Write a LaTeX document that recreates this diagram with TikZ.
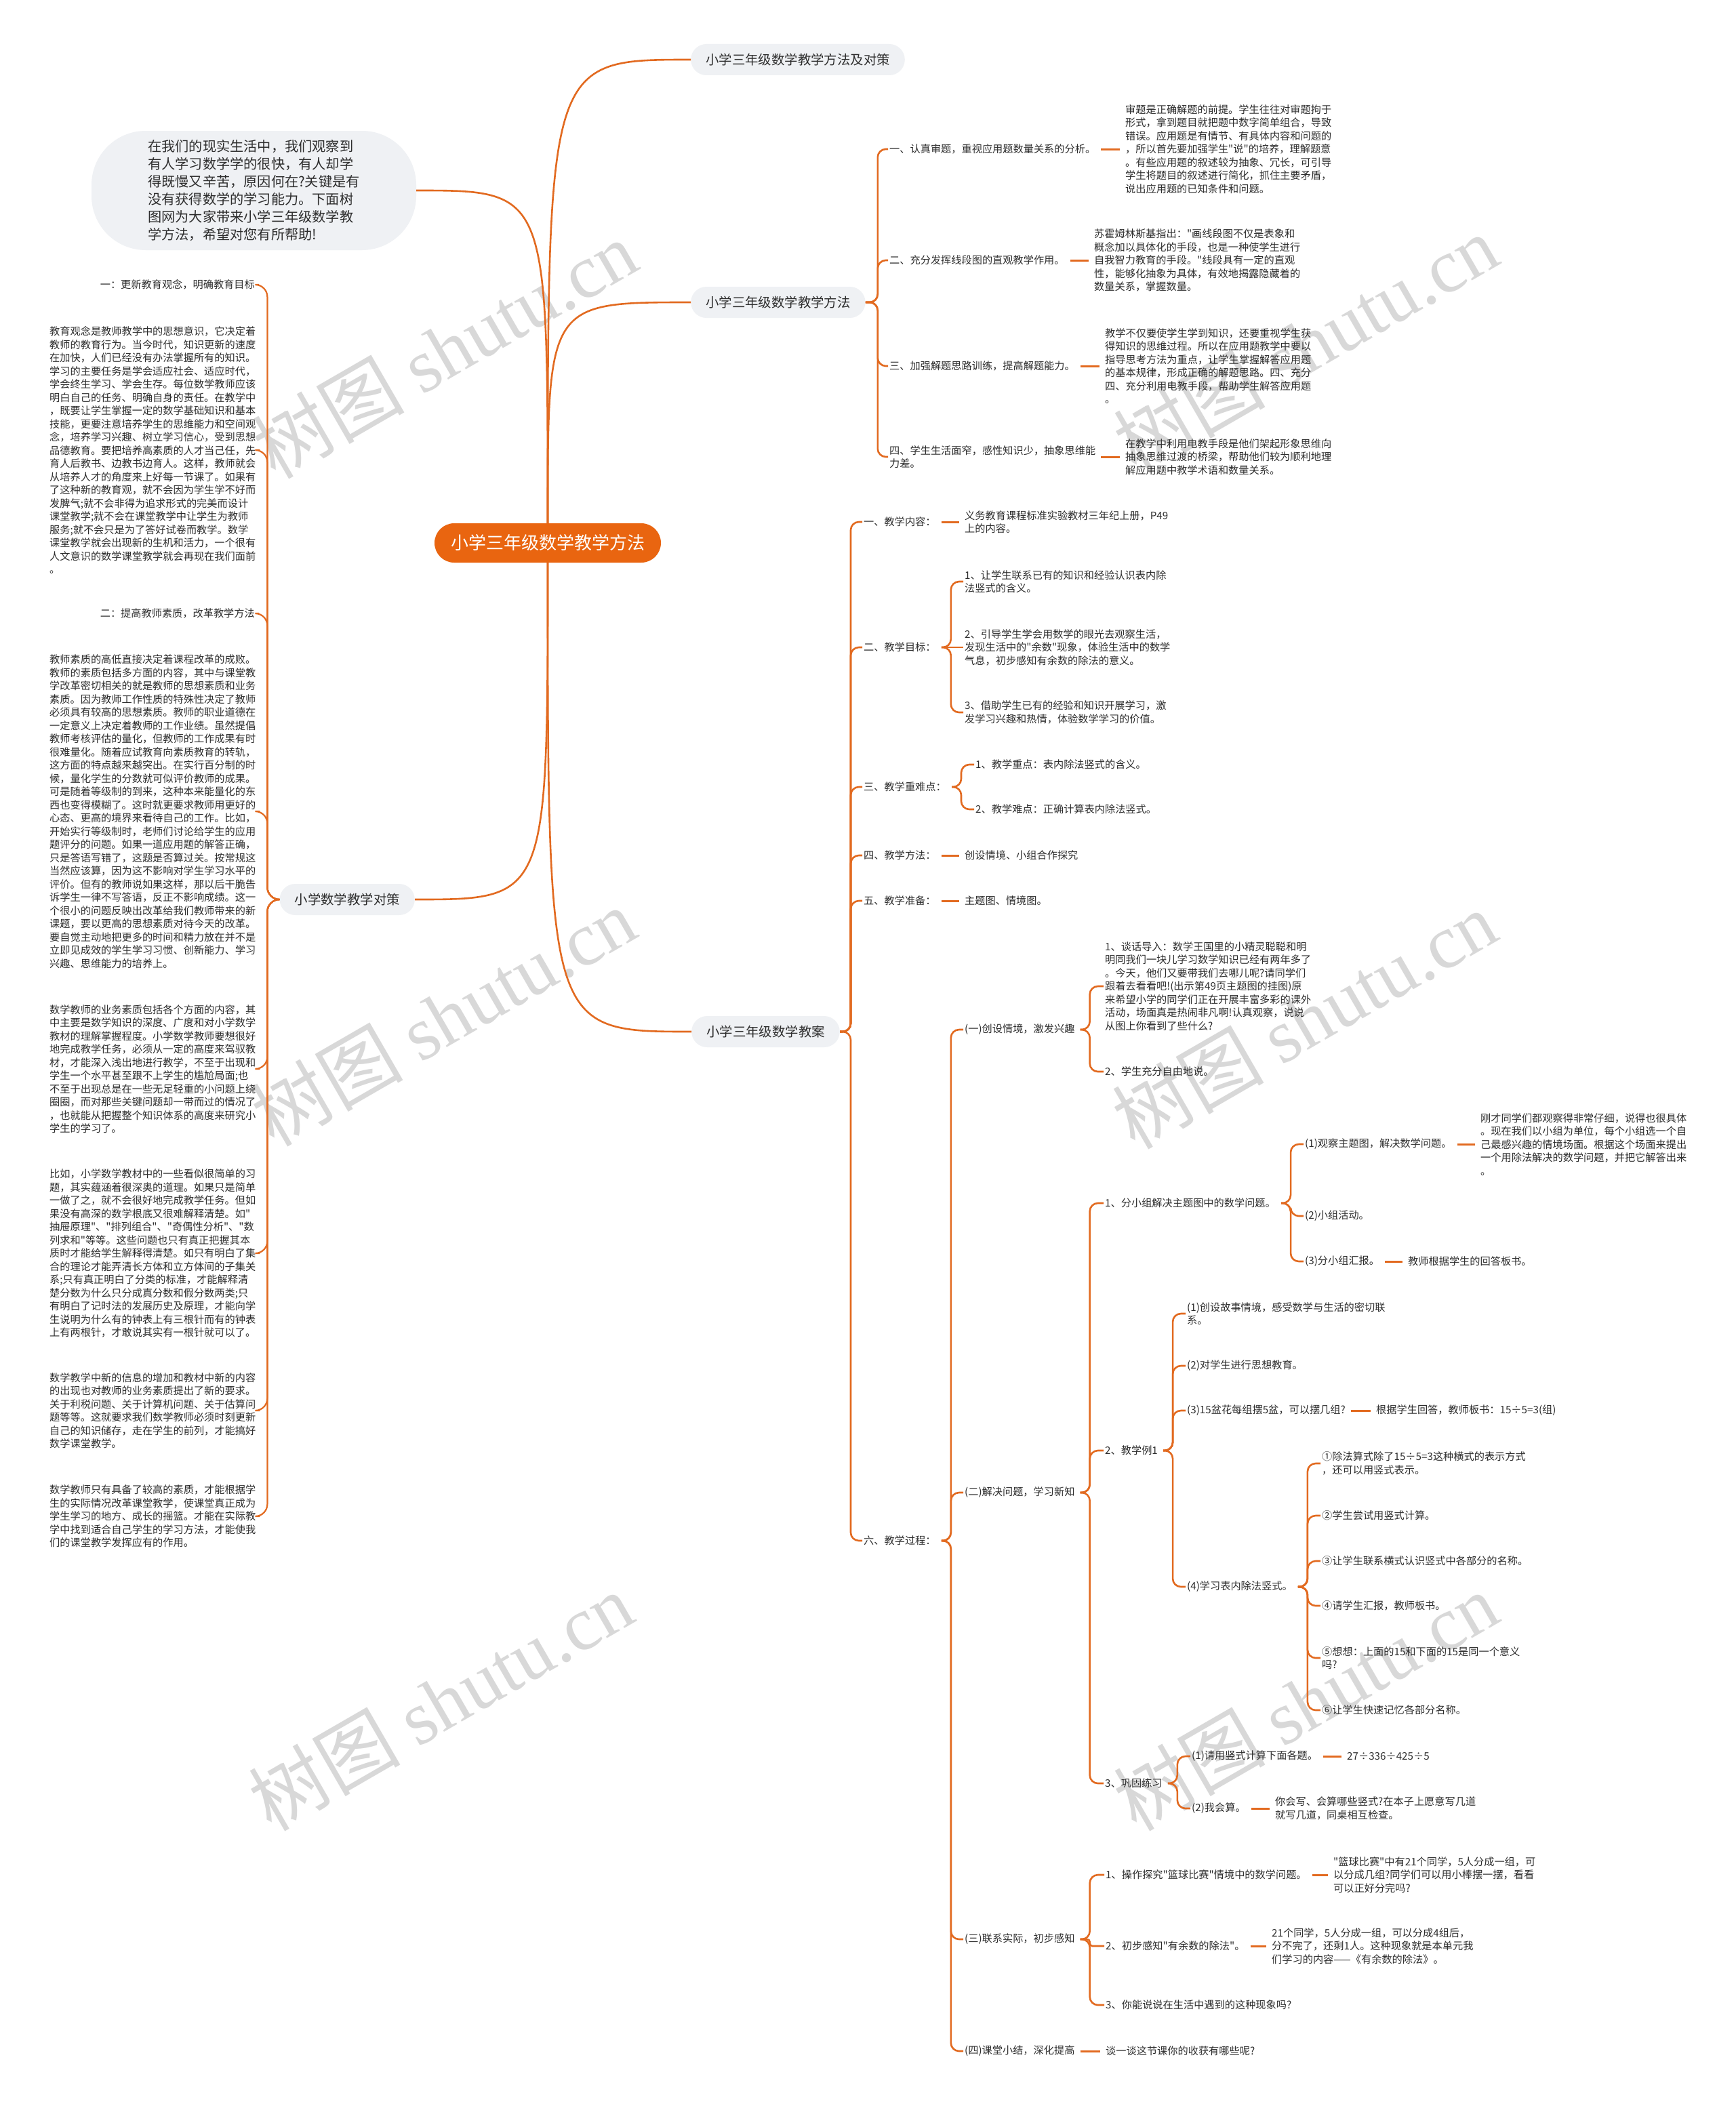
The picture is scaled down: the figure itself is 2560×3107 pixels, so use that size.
\documentclass[tikz,border=0pt]{standalone}
\usepackage{fontspec}
\newfontfamily\cjk{Noto Sans CJK SC}
\newfontfamily\wmfont{Liberation Serif}
\definecolor{rootc}{RGB}{233,101,16}
\definecolor{linec}{RGB}{226,106,32}
\definecolor{bubc}{RGB}{239,241,244}
\definecolor{txtc}{RGB}{45,45,45}
\definecolor{wmc}{RGB}{216,216,216}
\begin{document}
\begin{tikzpicture}[x=1pt,y=-1pt,
  every node/.style={inner sep=0pt},
  rootnode/.style={fill=rootc,text=white,rounded corners=29pt,minimum width=334pt,minimum height=58pt,font=\cjk\fontsize{26}{30}\selectfont},
  lone/.style={fill=bubc,text=txtc,rounded corners=23pt,minimum height=46pt,inner xsep=22pt,font=\cjk\fontsize{19.4}{24}\selectfont},
  tx/.style={text=txtc,font=\cjk\fontsize{15.2}{19.5}\selectfont,align=left,inner xsep=2pt,inner ysep=1pt,anchor=west},
  curv/.style={draw=linec,line width=2.6pt},
  brk/.style={draw=linec,line width=2.6pt,rounded corners=12pt},
  lbrk/.style={draw=linec,line width=2.2pt,rounded corners=18pt},
  dsh/.style={draw=linec,line width=3pt},
  wmk/.style={text=wmc,rotate=30,font=\cjk\fontsize{112}{120}\selectfont}]
\fill[white] (0,0) rectangle (2560,3107);
\useasboundingbox (0,0) rectangle (2560,3107);
% watermarks
\node[wmk] (w1) at (656,515) {树图 {\wmfont shutu.cn}};
\node[wmk] (w2) at (1926,507) {树图 {\wmfont shutu.cn}};
\node[wmk] (w3) at (654,1500) {树图 {\wmfont shutu.cn}};
\node[wmk] (w4) at (1924,1504) {树图 {\wmfont shutu.cn}};
\node[wmk] (w5) at (650,2510) {树图 {\wmfont shutu.cn}};
\node[wmk] (w6) at (1926,2510) {树图 {\wmfont shutu.cn}};
% root and main branches
\node[rootnode] (root) at (808,801) {小学三年级数学教学方法};
\node[fill=bubc,text=txtc,rounded corners=80pt,minimum width=479pt,minimum height=176pt,align=left,font=\cjk\fontsize{20.2}{26}\selectfont] (intro) at (374.5,281) {在我们的现实生活中，我们观察到\\%
有人学习数学学的很快，有人却学\\%
得既慢又辛苦，原因何在?关键是有\\%
没有获得数学的学习能力。下面树\\%
图网为大家带来小学三年级数学教\\%
学方法，希望对您有所帮助!};
\node[lone,anchor=west] (A) at (1019,88) {小学三年级数学教学方法及对策};
\node[lone,anchor=west] (B) at (1019,446) {小学三年级数学教学方法};
\node[lone,anchor=west] (C) at (1020,1522) {小学三年级数学教案};
\node[lone,anchor=east] (D) at (612,1327) {小学数学教学对策};
\draw[curv] (root.north) .. controls (root.north |- A.west) .. (A.west);
\draw[curv] (root.north) .. controls (root.north |- B.west) .. (B.west);
\draw[curv] (root.north) .. controls (root.north |- intro.east) .. (intro.east);
\draw[curv] (root.south) .. controls (root.south |- D.east) .. (D.east);
\draw[curv] (root.south) .. controls (root.south |- C.west) .. (C.west);
% ---------- branch B
\node[tx] (b1) at (1310,220) {一、认真审题，重视应用题数量关系的分析。};
\node[tx] (b1p) at (1658,220) {审题是正确解题的前提。学生往往对审题拘于\\%
形式，拿到题目就把题中数字简单组合，导致\\%
错误。应用题是有情节、有具体内容和问题的\\%
，所以首先要加强学生"说"的培养，理解题意\\%
。有些应用题的叙述较为抽象、冗长，可引导\\%
学生将题目的叙述进行简化，抓住主要矛盾，\\%
说出应用题的已知条件和问题。};
\node[tx] (b2) at (1310,384) {二、充分发挥线段图的直观教学作用。};
\node[tx] (b2p) at (1612,384) {苏霍姆林斯基指出："画线段图不仅是表象和\\%
概念加以具体化的手段，也是一种使学生进行\\%
自我智力教育的手段。"线段具有一定的直观\\%
性，能够化抽象为具体，有效地揭露隐藏着的\\%
数量关系，掌握数量。};
\node[tx] (b3) at (1310,540) {三、加强解题思路训练，提高解题能力。};
\node[tx] (b3p) at (1628,540) {教学不仅要使学生学到知识，还要重视学生获\\%
得知识的思维过程。所以在应用题教学中要以\\%
指导思考方法为重点，让学生掌握解答应用题\\%
的基本规律，形成正确的解题思路。四、充分\\%
四、充分利用电教手段，帮助学生解答应用题\\%
。};
\node[tx] (b4) at (1310,674) {四、学生生活面窄，感性知识少，抽象思维能\\%
力差。};
\node[tx] (b4p) at (1658,674) {在教学中利用电教手段是他们架起形象思维向\\%
抽象思维过渡的桥梁，帮助他们较为顺利地理\\%
解应用题中教学术语和数量关系。};
\draw[brk] (B.east) -- ++(18,0) |- (b1.west);
\draw[brk] (B.east) -- ++(18,0) |- (b2.west);
\draw[brk] (B.east) -- ++(18,0) |- (b3.west);
\draw[brk] (B.east) -- ++(18,0) |- (b4.west);
\draw[dsh] ([xshift=6pt]b1.east) -- ([xshift=-6pt]b1p.west);
\draw[dsh] ([xshift=6pt]b2.east) -- ([xshift=-6pt]b2p.west);
\draw[dsh] ([xshift=6pt]b3.east) -- ([xshift=-6pt]b3p.west);
\draw[dsh] ([xshift=6pt]b4.east) -- ([xshift=-6pt]b4p.west);
% ---------- branch C
\node[tx] (c1) at (1272,770) {一、教学内容：};
\node[tx] (c1a) at (1421,770) {义务教育课程标准实验教材三年纪上册，P49\\%
上的内容。};
\node[tx] (c2) at (1272,955) {二、教学目标：};
\node[tx] (c2a) at (1421,858) {1、让学生联系已有的知识和经验认识表内除\\%
法竖式的含义。};
\node[tx] (c2b) at (1421,955) {2、引导学生学会用数学的眼光去观察生活，\\%
发现生活中的"余数"现象，体验生活中的数学\\%
气息，初步感知有余数的除法的意义。};
\node[tx] (c2c) at (1421,1051) {3、借助学生已有的经验和知识开展学习，激\\%
发学习兴趣和热情，体验数学学习的价值。};
\node[tx] (c3) at (1272,1161) {三、教学重难点：};
\node[tx] (c3a) at (1437,1128) {1、教学重点：表内除法竖式的含义。};
\node[tx] (c3b) at (1437,1194) {2、教学难点：正确计算表内除法竖式。};
\node[tx] (c4) at (1272,1262) {四、教学方法：};
\node[tx] (c4a) at (1421,1262) {创设情境、小组合作探究};
\node[tx] (c5) at (1272,1329) {五、教学准备：};
\node[tx] (c5a) at (1421,1329) {主题图、情境图。};
\node[tx] (c6) at (1272,2273) {六、教学过程：};
\foreach \k in {c1,c2,c3,c4,c5,c6} {\draw[brk] (C.east) -- ++(16,0) |- (\k.west);}
\draw[dsh] ([xshift=6pt]c1.east) -- ([xshift=-6pt]c1a.west);
\draw[brk] ([xshift=6pt]c2.east) -- ++(14,0) |- (c2a.west);
\draw[brk] ([xshift=6pt]c2.east) -- (c2b.west);
\draw[brk] ([xshift=6pt]c2.east) -- ++(14,0) |- (c2c.west);
\draw[brk] ([xshift=6pt]c3.east) -- ++(14,0) |- (c3a.west);
\draw[brk] ([xshift=6pt]c3.east) -- ++(14,0) |- (c3b.west);
\draw[dsh] ([xshift=6pt]c4.east) -- ([xshift=-6pt]c4a.west);
\draw[dsh] ([xshift=6pt]c5.east) -- ([xshift=-6pt]c5a.west);
% teaching process
\node[tx] (d1) at (1421,1519) {(一)创设情境，激发兴趣};
\node[tx] (d1a) at (1628,1455) {1、谈话导入：数学王国里的小精灵聪聪和明\\%
明同我们一块儿学习数学知识已经有两年多了\\%
。今天，他们又要带我们去哪儿呢?请同学们\\%
跟着去看看吧!(出示第49页主题图的挂图)原\\%
来希望小学的同学们正在开展丰富多彩的课外\\%
活动，场面真是热闹非凡啊!认真观察，说说\\%
从图上你看到了些什么?};
\node[tx] (d1b) at (1628,1581) {2、学生充分自由地说。};
\node[tx] (d2) at (1421,2202) {(二)解决问题，学习新知};
\node[tx] (e1) at (1628,1775) {1、分小组解决主题图中的数学问题。};
\node[tx] (e1a) at (1923,1688) {(1)观察主题图，解决数学问题。};
\node[tx] (e1ap) at (2182,1688) {刚才同学们都观察得非常仔细，说得也很具体\\%
。现在我们以小组为单位，每个小组选一个自\\%
己最感兴趣的情境场面。根据这个场面来提出\\%
一个用除法解决的数学问题，并把它解答出来\\%
。};
\node[tx] (e1b) at (1923,1794) {(2)小组活动。};
\node[tx] (e1c) at (1923,1861) {(3)分小组汇报。};
\node[tx] (e1ca) at (2075,1861) {教师根据学生的回答板书。};
\node[tx] (e2) at (1628,2140) {2、教学例1};
\node[tx] (f1) at (1749,1938) {(1)创设故事情境，感受数学与生活的密切联\\%
系。};
\node[tx] (f2) at (1749,2015) {(2)对学生进行思想教育。};
\node[tx] (f3) at (1749,2081) {(3)15盆花每组摆5盆，可以摆几组?};
\node[tx] (f3a) at (2028,2081) {根据学生回答，教师板书：15÷5=3(组)};
\node[tx] (f4) at (1749,2341) {(4)学习表内除法竖式。};
\node[tx] (g1) at (1948,2159) {①除法算式除了15÷5=3这种横式的表示方式\\%
，还可以用竖式表示。};
\node[tx] (g2) at (1948,2236) {②学生尝试用竖式计算。};
\node[tx] (g3) at (1948,2303) {③让学生联系横式认识竖式中各部分的名称。};
\node[tx] (g4) at (1948,2369) {④请学生汇报，教师板书。};
\node[tx] (g5) at (1948,2446) {⑤想想：上面的15和下面的15是同一个意义\\%
吗?};
\node[tx] (g6) at (1948,2523) {⑥让学生快速记忆各部分名称。};
\node[tx] (e3) at (1628,2631) {3、巩固练习};
\node[tx] (h1) at (1756,2591) {(1)请用竖式计算下面各题。};
\node[tx] (h1a) at (1985,2591) {27÷336÷425÷5};
\node[tx] (h2) at (1756,2668) {(2)我会算。};
\node[tx] (h2a) at (1879,2668) {你会写、会算哪些竖式?在本子上愿意写几道\\%
就写几道，同桌相互检查。};
\node[tx] (d3) at (1421,2861) {(三)联系实际，初步感知};
\node[tx] (i1) at (1629,2766) {1、操作探究"篮球比赛"情境中的数学问题。};
\node[tx] (i1a) at (1965,2766) {"篮球比赛"中有21个同学，5人分成一组，可\\%
以分成几组?同学们可以用小棒摆一摆，看看\\%
可以正好分完吗?};
\node[tx] (i2) at (1629,2871) {2、初步感知"有余数的除法"。};
\node[tx] (i2a) at (1874,2871) {21个同学，5人分成一组，可以分成4组后，\\%
分不完了，还剩1人。这种现象就是本单元我\\%
们学习的内容——《有余数的除法》。};
\node[tx] (i3) at (1629,2958) {3、你能说说在生活中遇到的这种现象吗?};
\node[tx] (d4) at (1421,3026) {(四)课堂小结，深化提高};
\node[tx] (d4a) at (1629,3026) {谈一谈这节课你的收获有哪些呢?};
\foreach \k in {d1,d2,d3,d4} {\draw[brk] ([xshift=6pt]c6.east) -- ++(14,0) |- (\k.west);}
\foreach \k in {d1a,d1b} {\draw[brk] ([xshift=6pt]d1.east) -- ++(14,0) |- (\k.west);}
\foreach \k in {e1,e2,e3} {\draw[brk] ([xshift=6pt]d2.east) -- ++(14,0) |- (\k.west);}
\foreach \k in {e1a,e1b,e1c} {\draw[brk] ([xshift=6pt]e1.east) -- ++(14,0) |- (\k.west);}
\foreach \k in {f1,f2,f3,f4} {\draw[brk] ([xshift=6pt]e2.east) -- ++(14,0) |- (\k.west);}
\foreach \k in {g1,g2,g3,g4,g5,g6} {\draw[brk] ([xshift=6pt]f4.east) -- ++(14,0) |- (\k.west);}
\foreach \k in {h1,h2} {\draw[brk] ([xshift=6pt]e3.east) -- ++(14,0) |- (\k.west);}
\draw[brk] ([xshift=6pt]d3.east) -- ++(14,0) |- (i1.west);
\draw[brk,rounded corners=4pt] ([xshift=6pt]d3.east) -- ++(14,0) |- (i2.west);
\draw[brk] ([xshift=6pt]d3.east) -- ++(14,0) |- (i3.west);
\draw[dsh] ([xshift=6pt]e1a.east) -- ([xshift=-6pt]e1ap.west);
\draw[dsh] ([xshift=6pt]e1c.east) -- ([xshift=-6pt]e1ca.west);
\draw[dsh] ([xshift=6pt]f3.east) -- ([xshift=-6pt]f3a.west);
\draw[dsh] ([xshift=6pt]h1.east) -- ([xshift=-6pt]h1a.west);
\draw[dsh] ([xshift=6pt]h2.east) -- ([xshift=-6pt]h2a.west);
\draw[dsh] ([xshift=6pt]i1.east) -- ([xshift=-6pt]i1a.west);
\draw[dsh] ([xshift=6pt]i2.east) -- ([xshift=-6pt]i2a.west);
\draw[dsh] ([xshift=6pt]d4.east) -- ([xshift=-6pt]d4a.west);
% ---------- branch D (left)
\node[tx,anchor=east] (L1) at (378,420) {一：更新教育观念，明确教育目标};
\node[tx] (L2) at (71,664) {教育观念是教师教学中的思想意识，它决定着\\%
教师的教育行为。当今时代，知识更新的速度\\%
在加快，人们已经没有办法掌握所有的知识。\\%
学习的主要任务是学会适应社会、适应时代，\\%
学会终生学习、学会生存。每位数学教师应该\\%
明白自己的任务、明确自身的责任。在教学中\\%
，既要让学生掌握一定的数学基础知识和基本\\%
技能，更要注意培养学生的思维能力和空间观\\%
念，培养学习兴趣、树立学习信心，受到思想\\%
品德教育。要把培养高素质的人才当己任，先\\%
育人后教书、边教书边育人。这样，教师就会\\%
从培养人才的角度来上好每一节课了。如果有\\%
了这种新的教育观，就不会因为学生学不好而\\%
发脾气;就不会非得为追求形式的完美而设计\\%
课堂教学;就不会在课堂教学中让学生为教师\\%
服务;就不会只是为了答好试卷而教学。数学\\%
课堂教学就会出现新的生机和活力，一个很有\\%
人文意识的数学课堂教学就会再现在我们面前\\%
。};
\node[tx,anchor=east] (L3) at (378,905) {二：提高教师素质，改革教学方法};
\node[tx] (L4) at (71,1197) {教师素质的高低直接决定着课程改革的成败。\\%
教师的素质包括多方面的内容，其中与课堂教\\%
学改革密切相关的就是教师的思想素质和业务\\%
素质。因为教师工作性质的特殊性决定了教师\\%
必须具有较高的思想素质。教师的职业道德在\\%
一定意义上决定着教师的工作业绩。虽然提倡\\%
教师考核评估的量化，但教师的工作成果有时\\%
很难量化。随着应试教育向素质教育的转轨，\\%
这方面的特点越来越突出。在实行百分制的时\\%
候，量化学生的分数就可似评价教师的成果。\\%
可是随着等级制的到来，这种本来能量化的东\\%
西也变得模糊了。这时就更要求教师用更好的\\%
心态、更高的境界来看待自己的工作。比如，\\%
开始实行等级制时，老师们讨论给学生的应用\\%
题评分的问题。如果一道应用题的解答正确，\\%
只是答语写错了，这题是否算过关。按常规这\\%
当然应该算，因为这不影响对学生学习水平的\\%
评价。但有的教师说如果这样，那以后干脆告\\%
诉学生一律不写答语，反正不影响成绩。这一\\%
个很小的问题反映出改革给我们教师带来的新\\%
课题，要以更高的思想素质对待今天的改革。\\%
要自觉主动地把更多的时间和精力放在并不是\\%
立即见成效的学生学习习惯、创新能力、学习\\%
兴趣、思维能力的培养上。};
\node[tx] (L5) at (71,1577) {数学教师的业务素质包括各个方面的内容，其\\%
中主要是数学知识的深度、广度和对小学数学\\%
教材的理解掌握程度。小学数学教师要想很好\\%
地完成教学任务，必须从一定的高度来驾驭教\\%
材，才能深入浅出地进行教学，不至于出现和\\%
学生一个水平甚至跟不上学生的尴尬局面;也\\%
不至于出现总是在一些无足轻重的小问题上绕\\%
圈圈，而对那些关键问题却一带而过的情况了\\%
，也就能从把握整个知识体系的高度来研究小\\%
学生的学习了。};
\node[tx] (L6) at (71,1849) {比如，小学数学教材中的一些看似很简单的习\\%
题，其实蕴涵着很深奥的道理。如果只是简单\\%
一做了之，就不会很好地完成教学任务。但如\\%
果没有高深的数学根底又很难解释清楚。如"\\%
抽屉原理"、"排列组合"、"奇偶性分析"、"数\\%
列求和"等等。这些问题也只有真正把握其本\\%
质时才能给学生解释得清楚。如只有明白了集\\%
合的理论才能弄清长方体和立方体间的子集关\\%
系;只有真正明白了分类的标准，才能解释清\\%
楚分数为什么只分成真分数和假分数两类;只\\%
有明白了记时法的发展历史及原理，才能向学\\%
生说明为什么有的钟表上有三根针而有的钟表\\%
上有两根针，才敢说其实有一根针就可以了。};
\node[tx] (L7) at (71,2081) {数学教学中新的信息的增加和教材中新的内容\\%
的出现也对教师的业务素质提出了新的要求。\\%
关于利税问题、关于计算机问题、关于估算问\\%
题等等。这就要求我们数学教师必须时刻更新\\%
自己的知识储存，走在学生的前列，才能搞好\\%
数学课堂教学。};
\node[tx] (L8) at (71,2237) {数学教师只有具备了较高的素质，才能根据学\\%
生的实际情况改革课堂教学，使课堂真正成为\\%
学生学习的地方、成长的摇篮。才能在实际教\\%
学中找到适合自己学生的学习方法，才能使我\\%
们的课堂教学发挥应有的作用。};
\foreach \k in {L1,L2,L3,L4,L5,L6,L7,L8} {\draw[lbrk] (D.west) -- ++(-18,0) |- ([xshift=4pt]\k.east);}
\end{tikzpicture}
\end{document}
